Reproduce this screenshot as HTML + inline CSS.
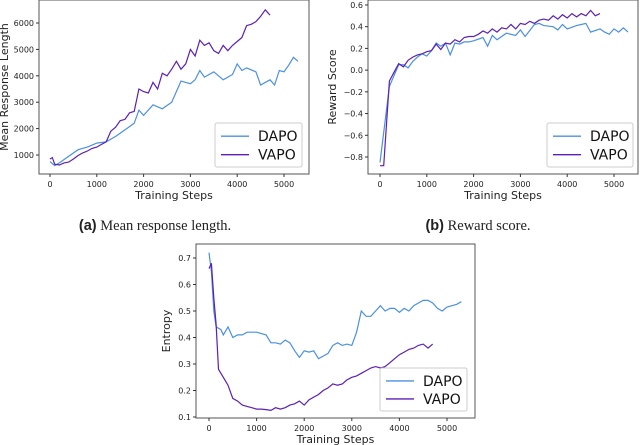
<!DOCTYPE html>
<html><head><meta charset="utf-8">
<style>
body{margin:0;background:#fff;width:640px;height:445px;overflow:hidden;font-family:"DejaVu Sans","Liberation Sans",sans-serif}
svg{position:absolute;left:0;top:0}
.cap{font-family:"Liberation Serif",serif;font-size:14.5px;fill:#222}
</style></head>
<body>
<svg id="s" width="640" height="445"></svg>
<script>
// Chart (a) data
const aDapoX=[0,100,200,400,600,800,1000,1200,1400,1600,1800,1900,2000,2200,2400,2600,2800,3000,3100,3200,3300,3500,3700,3900,4000,4100,4200,4400,4500,4700,4800,4900,5000,5100,5200,5300];
const aDapoY=[750,600,700,950,1200,1300,1450,1500,1700,1950,2200,2700,2500,2900,2750,3000,3800,3700,3850,4200,3950,4150,3850,4050,4450,4200,4300,4150,3650,3850,3650,4200,4150,4400,4700,4550];
const aVapoX=[0,50,100,200,300,400,500,600,700,800,900,1000,1100,1200,1300,1400,1500,1600,1700,1800,1900,2000,2100,2200,2300,2400,2500,2600,2700,2800,2900,3000,3100,3200,3300,3400,3500,3600,3700,3800,3900,4000,4100,4200,4300,4400,4500,4600,4700];
const aVapoY=[850,900,650,620,700,730,850,980,1080,1150,1250,1300,1400,1500,1900,2050,2300,2350,2600,2650,3500,3400,3350,3750,3500,4100,4000,4250,4550,4250,4450,5000,4750,5350,5150,5250,4950,4850,5150,4950,5150,5300,5450,5900,5950,6050,6250,6500,6300];
const aXTicks=[0,1000,2000,3000,4000,5000];
const aYTicks=[1000,2000,3000,4000,5000,6000];
// Chart (b) data
const bDapoX=[0,100,200,300,400,500,600,700,800,900,1000,1100,1200,1300,1400,1500,1600,1700,1800,1900,2000,2200,2300,2400,2500,2700,2900,3000,3100,3300,3400,3500,3700,3800,3900,4000,4200,4300,4400,4500,4700,4800,4900,5000,5100,5200,5300];
const bDapoY=[-0.85,-0.5,-0.15,-0.05,0.05,0.05,0.02,0.08,0.12,0.15,0.13,0.18,0.25,0.22,0.25,0.14,0.25,0.24,0.26,0.26,0.27,0.3,0.22,0.32,0.28,0.34,0.32,0.37,0.31,0.42,0.43,0.41,0.4,0.37,0.42,0.38,0.41,0.42,0.43,0.35,0.38,0.35,0.33,0.38,0.35,0.39,0.35];
const bVapoX=[0,80,200,300,400,500,600,700,800,900,1000,1100,1200,1300,1400,1500,1600,1700,1800,1900,2000,2100,2200,2300,2400,2500,2600,2700,2800,2900,3000,3100,3200,3300,3400,3500,3600,3700,3800,3900,4000,4100,4200,4300,4400,4500,4600,4700];
const bVapoY=[-0.88,-0.88,-0.1,-0.02,0.06,0.03,0.09,0.12,0.14,0.15,0.17,0.18,0.24,0.19,0.25,0.24,0.28,0.26,0.3,0.31,0.31,0.33,0.36,0.34,0.38,0.35,0.39,0.38,0.42,0.38,0.43,0.42,0.45,0.43,0.46,0.47,0.46,0.5,0.47,0.51,0.48,0.52,0.49,0.52,0.5,0.55,0.5,0.52];
const bXTicks=[0,1000,2000,3000,4000,5000];
const bYTicks=[-0.8,-0.6,-0.4,-0.2,0.0,0.2,0.4,0.6];
// Chart (c) data
const cDapoX=[0,50,100,150,250,300,400,500,600,700,800,1000,1200,1300,1400,1500,1600,1700,1800,1900,2000,2100,2200,2300,2400,2500,2600,2700,2800,2900,3000,3100,3200,3300,3400,3500,3600,3700,3800,3900,4000,4100,4200,4300,4400,4500,4600,4700,4800,4900,5000,5100,5200,5300];
const cDapoY=[0.72,0.65,0.5,0.44,0.43,0.41,0.44,0.4,0.41,0.41,0.42,0.42,0.41,0.38,0.38,0.375,0.39,0.38,0.35,0.325,0.35,0.345,0.35,0.32,0.33,0.34,0.37,0.38,0.37,0.375,0.37,0.42,0.5,0.48,0.48,0.5,0.52,0.5,0.51,0.51,0.495,0.51,0.5,0.52,0.53,0.54,0.54,0.53,0.51,0.5,0.515,0.52,0.525,0.535];
const cVapoX=[0,50,100,150,200,300,400,500,600,700,800,900,1000,1100,1200,1300,1400,1500,1600,1700,1800,1900,2000,2100,2200,2300,2400,2500,2600,2700,2800,2900,3000,3100,3200,3300,3400,3500,3600,3700,3800,3900,4000,4100,4200,4300,4400,4500,4600,4700];
const cVapoY=[0.66,0.68,0.55,0.45,0.28,0.25,0.22,0.17,0.16,0.145,0.14,0.135,0.13,0.13,0.128,0.125,0.135,0.13,0.135,0.145,0.15,0.16,0.145,0.165,0.175,0.185,0.2,0.21,0.225,0.22,0.225,0.24,0.25,0.255,0.265,0.275,0.285,0.29,0.285,0.29,0.305,0.32,0.335,0.345,0.355,0.36,0.37,0.375,0.36,0.375];
const cXTicks=[0,1000,2000,3000,4000,5000];
const cYTicks=[0.1,0.2,0.3,0.4,0.5,0.6,0.7];

const NS='http://www.w3.org/2000/svg';
const svg=document.getElementById('s');
function mk(tag,attrs,parent){const e=document.createElementNS(NS,tag);for(const k in attrs)e.setAttribute(k,attrs[k]);(parent||svg).appendChild(e);return e;}

function chart(id,box,xs,ys,xt,yt,ylabel,series,legend,fmt){
  const g=mk('g',{});
  
  
  const X=v=>xs[0]+(v-xs[1])*xs[2];
  const Y=v=>ys[0]-(v-ys[1])*ys[2];
  series.forEach(s=>{
    const p=mk('polyline',{fill:'none',stroke:s.c,'stroke-width':1.2,points:s.x.map((x,i)=>X(x).toFixed(1)+','+Y(s.y[i]).toFixed(1)).join(' ')},g);
    
    
  });
  const fr=mk('rect',{x:box[0],y:box[1],width:box[2]-box[0],height:box[3]-box[1],fill:'none',stroke:'#555','stroke-width':1},g);
  
  
  xt.forEach(t=>{
    mk('line',{x1:X(t),x2:X(t),y1:box[3],y2:box[3]+3,stroke:'#333'},g);
    const tx=mk('text',{x:X(t),y:box[3]+13,'font-size':8,'text-anchor':'middle',fill:'#222'},g);tx.textContent=t;
    
    
  });
  yt.forEach(t=>{
    mk('line',{x1:box[0]-3,x2:box[0],y1:Y(t),y2:Y(t),stroke:'#333'},g);
    const tx=mk('text',{x:box[0]-5,y:Y(t)+3,'font-size':8,'text-anchor':'end',fill:'#222'},g);tx.textContent=fmt(t);
    
    
  });
  const xl=mk('text',{x:(box[0]+box[2])/2,y:box[3]+25,'font-size':11,'text-anchor':'middle',fill:'#222'},g);xl.textContent='Training Steps';
  
  
  const cy=(box[1]+box[3])/2, lx=ylabel[1];
  const yl=mk('text',{x:lx,y:cy,'font-size':11,'text-anchor':'middle',fill:'#222',transform:`rotate(-90 ${lx} ${cy})`},g);yl.textContent=ylabel[0];
  
  
  const lg=mk('g',{},g);
  
  
  mk('rect',{x:legend[0],y:legend[1],width:legend[2],height:legend[3],fill:'#fff',stroke:'#ccc',rx:2},lg);
  series.forEach((s,i)=>{
    const yy=legend[1]+legend[3]*(i===0?0.3:0.72);
    mk('line',{x1:legend[0]+6,x2:legend[0]+34,y1:yy,y2:yy,stroke:s.c,'stroke-width':1.4},lg);
    const t=mk('text',{x:legend[0]+43,y:yy+5,'font-size':14,fill:'#111'},lg);t.textContent=s.n;
    
    
  });
}
const DC='#4a90e2',VC='#5b1fb5';
chart('response-length',[39,0,309,174],[50,0,0.0468],[155,1000,0.0264],aXTicks,aYTicks,['Mean Response Length',8],
 [{n:'DAPO',c:DC,x:aDapoX,y:aDapoY},{n:'VAPO',c:VC,x:aVapoX,y:aVapoY}],[215,123,87,44],t=>t);
chart('reward-score',[368,0,638,174],[380,0,0.0468],[157,-0.8,108.6],bXTicks,bYTicks,['Reward Score',336],
 [{n:'DAPO',c:DC,x:bDapoX,y:bDapoY},{n:'VAPO',c:VC,x:bVapoX,y:bVapoY}],[547,123,86,44],t=>(t<0?'\u22120':'')+(t<0?Math.abs(t).toFixed(1).slice(1):t.toFixed(1)));
chart('entropy',[196,244,475,418],[209,0,0.0476],[417,0.1,265],cXTicks,cYTicks,['Entropy',170],
 [{n:'DAPO',c:DC,x:cDapoX,y:cDapoY},{n:'VAPO',c:VC,x:cVapoX,y:cVapoY}],[380,368,87,43],t=>t.toFixed(1));
</script>
<svg width="640" height="445" style="pointer-events:none">
<text class="cap" x="155" y="230" text-anchor="middle"><tspan font-family="Liberation Sans" font-weight="bold">(a)</tspan>  Mean response length.</text>
<text class="cap" x="478" y="230" text-anchor="middle"><tspan font-family="Liberation Sans" font-weight="bold">(b)</tspan>  Reward score.</text>
</svg>
</body></html>
